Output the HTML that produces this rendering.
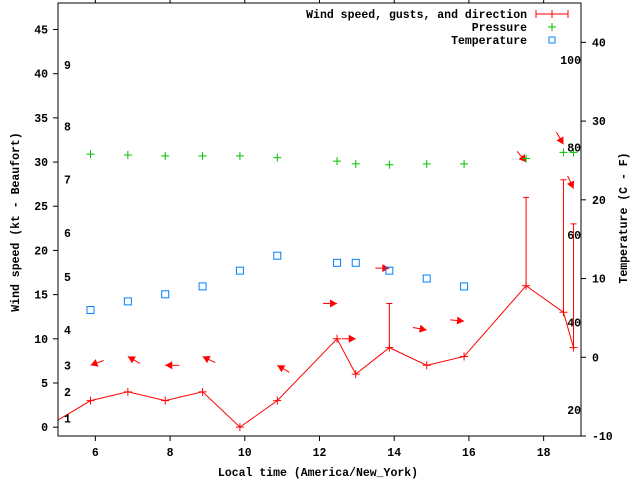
<!DOCTYPE html>
<html><head><meta charset="utf-8"><style>
body{margin:0;background:#fff}
svg{display:block}
text{font-family:"Liberation Mono",monospace;font-size:11.5px;font-weight:bold;fill:#000}
</style></head><body>
<svg id="chart" width="640" height="480" viewBox="0 0 640 480" xmlns="http://www.w3.org/2000/svg">
<rect width="640" height="480" fill="#fff"/>
<g id="marks"></g>
<rect x="58" y="3" width="523" height="433" fill="none" stroke="#000" stroke-width="1"/>
<g id="axes"></g>
<text transform="translate(19,222) rotate(-90)" text-anchor="middle">Wind speed (kt - Beaufort)</text>
<text transform="translate(627,218) rotate(-90)" text-anchor="middle">Temperature (C - F)</text>
<text x="318" y="476" text-anchor="middle">Local time (America/New_York)</text>
<g>
<text x="527" y="18" text-anchor="end">Wind speed, gusts, and direction</text>
<line x1="536" y1="14" x2="568" y2="14" stroke="#f00"/><line x1="536" y1="10" x2="536" y2="18" stroke="#f00"/><line x1="568" y1="10" x2="568" y2="18" stroke="#f00"/><line x1="552" y1="10" x2="552" y2="18" stroke="#f00"/>
<text x="527" y="31" text-anchor="end">Pressure</text>
<path d="M548 27h8M552 23v8" stroke="#00c000" fill="none"/>
<text x="527" y="44" text-anchor="end">Temperature</text>
<rect x="549" y="37" width="6" height="6" fill="none" stroke="#0080ff"/>
</g>
</svg>
<script>
const times=[5.87,6.87,7.87,8.87,9.87,10.87,12.47,12.97,13.87,14.87,15.87,17.53,18.53,18.8];
const speeds=[3,4,3,4,0,3,10,6,9,7,8,16,13,9];
const gusts=[null,null,null,null,null,null,null,null,14,null,null,26,28,23];
const dirs=[200,150,180,154,null,150,0,0,0,-10,-5,-50,-60,-65];
const pressure=[30.9,30.8,30.7,30.7,30.7,30.5,30.1,29.8,29.7,29.8,29.8,30.4,31.1,31.1];
const tempTimes=[5.87,6.87,7.87,8.87,9.87,10.87,12.47,12.97,13.87,14.87,15.87];
const temps=[6.0,7.1,8.0,9.0,11.0,12.9,12.0,12.0,11.0,10.0,9.0];
const xTicks=[6,8,10,12,14,16,18];
const yTicks=[0,5,10,15,20,25,30,35,40,45];
const y2Ticks=[-10,0,10,20,30,40];
const beaufort=[1,4,7,11,17,22,28,34,41];
const fahr=[20,40,60,80,100];
const NS="http://www.w3.org/2000/svg";
const X=t=>58+(t-5)*(523/14);
const Y=v=>436-(v+1)*(433/49);
const Y2=c=>436-(c+10)*(433/55);
const marks=document.getElementById('marks'),axes=document.getElementById('axes');
function mk(tag,at,parent){const e=document.createElementNS(NS,tag);for(const k in at)e.setAttribute(k,at[k]);(parent||marks).appendChild(e);return e;}
// axes ticks
xTicks.forEach(t=>{const x=X(t);
 mk('path',{d:`M${x} 436v5M${x} 3v-3`,stroke:'#000'},axes);
 const tx=mk('text',{x:x,y:456,'text-anchor':'middle'},axes);tx.textContent=t;
 
 });
yTicks.forEach(v=>{const y=Y(v);
 mk('path',{d:`M58 ${y}h-5`,stroke:'#000'},axes);
 const tx=mk('text',{x:48,y:y+4,'text-anchor':'end'},axes);tx.textContent=v;
 
 });
y2Ticks.forEach(v=>{const y=Y2(v);
 mk('path',{d:`M581 ${y}h5`,stroke:'#000'},axes);
 const tx=mk('text',{x:592,y:y+4,'text-anchor':'start'},axes);tx.textContent=v;
 
 });
beaufort.forEach((v,i)=>{const tx=mk('text',{x:64,y:Y(v)+4},axes);tx.textContent=i+1;
 
 });
fahr.forEach(f=>{const tx=mk('text',{x:581,y:Y2((f-32)*5/9)+4,'text-anchor':'end'},axes);tx.textContent=f;
 
 });
// clip
const defs=mk('defs',{});const cp=mk('clipPath',{id:'pc'},defs);mk('rect',{x:58,y:3,width:523,height:433},cp);
const g=mk('g',{'clip-path':'url(#pc)'});
// wind line
let pts=[[X(4.8),Y(0.3)]].concat(times.map((t,i)=>[X(t),Y(speeds[i])]));
const ln=mk('polyline',{points:pts.map(p=>p.join(',')).join(' '),fill:'none',stroke:'#f00'},g);


times.forEach((t,i)=>{const x=X(t),y=Y(speeds[i]);
 const p=mk('path',{d:`M${x-4} ${y}h8M${x} ${y-4}v8`,stroke:'#f00'},g);
 
 
 if(gusts[i]!=null){const gy=Y(gusts[i]);
  const b=mk('path',{d:`M${x} ${y}V${gy}M${x-3} ${gy}h6`,stroke:'#f00'},g);
  
  }
 if(dirs[i]!=null){const base=Math.max(speeds[i],gusts[i]||0)+4;const a=dirs[i]*Math.PI/180;
  const hx=X(t),hy=Y(base),L=14,dx=Math.cos(a),dy=-Math.sin(a);
  const tx=hx-dx*L,ty=hy-dy*L;
  const px=-dy,py=dx;
  const ar=mk('g',{},g);
  
  
  mk('line',{x1:tx,y1:ty,x2:hx,y2:hy,stroke:'#f00'},ar);
  mk('polygon',{points:`${hx},${hy} ${hx-dx*7+px*4},${hy-dy*7+py*4} ${hx-dx*7-px*4},${hy-dy*7-py*4}`,fill:'#f00'},ar);}
});
// pressure
times.forEach((t,i)=>{const x=X(t),y=Y(pressure[i]);
 const p=mk('path',{d:`M${x-4} ${y}h8M${x} ${y-4}v8`,stroke:'#00c000'},g);
 
 });
// temperature
tempTimes.forEach((t,i)=>{const x=X(t),y=Y2(temps[i]);
 const r=mk('rect',{x:x-3.5,y:y-3.5,width:7,height:7,fill:'none',stroke:'#0080ff'},g);
 
 });
</script>
</body></html>
